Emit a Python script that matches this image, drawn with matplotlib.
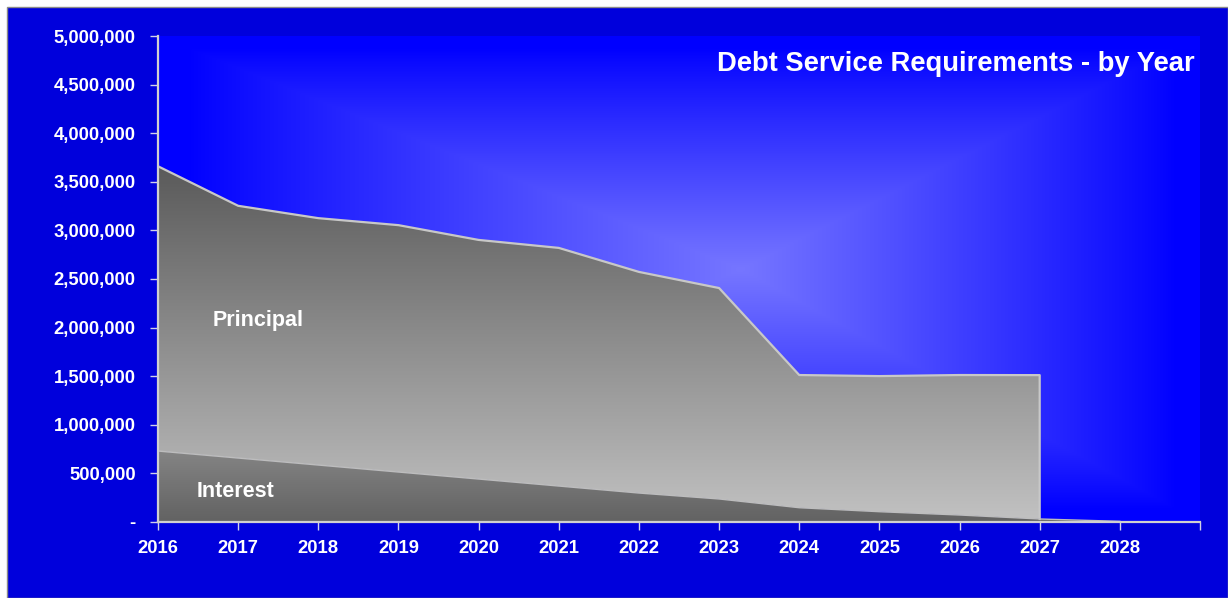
import numpy as np
import matplotlib
matplotlib.use("Agg")
import matplotlib.pyplot as plt
from matplotlib.patches import Rectangle
from matplotlib.colors import LinearSegmentedColormap

plt.rcParams['font.family'] = ['Liberation Sans', 'DejaVu Sans']
plt.rcParams['font.weight'] = 'bold'

years = ['2016', '2017', '2018', '2019', '2020', '2021', '2022',
         '2023', '2024', '2025', '2026', '2027', '2028']
interest = [730000, 658000, 586000, 514000, 442000, 370000, 298000,
            237000, 147000, 106000, 72000, 31000, 7000]
# principal stops after 2027
principal = [2930000, 2595000, 2540000, 2540000, 2460000, 2450000,
             2275000, 2170000, 1365000, 1395000, 1440000, 1480000]

y_ticks = list(range(0, 5000001, 500000))

fig = plt.figure(figsize=(12.28, 5.98), dpi=100)
fig.patch.set_facecolor('white')
fig.patches.append(Rectangle((7 / 1228, 0), 1 - 7 / 1228, 1 - 7 / 598,
                             transform=fig.transFigure, facecolor='#0000DC',
                             edgecolor='#8a8a8a', linewidth=1, zorder=-10))

ax = fig.add_axes([158 / 1228, 76 / 598, 1042 / 1228, 486 / 598])
ax.patch.set_alpha(0)

# background: rectangular "from center" gradient
n = 400
gx, gy = np.meshgrid(np.linspace(0, 1, n), np.linspace(1, 0, n))
cx, cy = 0.56, 0.52
dx = np.where(gx < cx, (cx - gx) / cx, (gx - cx) / (1 - cx))
dy = np.where(gy < cy, (cy - gy) / cy, (gy - cy) / (1 - cy))
t = np.maximum(dx, dy)
k = np.clip(1 - t / 0.95, 0, 1) ** 0.9
light = np.array([118, 118, 255]) / 255
blue = np.array([0, 0, 255]) / 255
bg = blue[None, None, :] + (light - blue)[None, None, :] * k[:, :, None]
ax.imshow(bg, extent=[0, 1, 0, 1], transform=ax.transAxes, aspect='auto',
          interpolation='bilinear', zorder=0)

x = np.arange(len(years))
xp = x[:len(principal)]
inter = np.array(interest, dtype=float)
total = inter[:len(principal)] + np.array(principal, dtype=float)

grad = np.linspace(0, 1, 256).reshape(-1, 1)

# principal area
cm_p = LinearSegmentedColormap.from_list('p', ['#c2c2c2', '#5a5a5a'])
poly_p = ax.fill_between(xp, inter[:len(principal)], total, facecolor='none',
                         edgecolor='none', zorder=2)
im_p = ax.imshow(grad, cmap=cm_p, origin='lower', aspect='auto',
                 extent=[0, xp[-1], 0, total.max()], zorder=2)
im_p.set_clip_path(poly_p.get_paths()[0], transform=ax.transData)

# interest area
cm_i = LinearSegmentedColormap.from_list('i', ['#626262', '#848484'])
poly_i = ax.fill_between(x, 0, inter, facecolor='none', edgecolor='none',
                         zorder=3)
im_i = ax.imshow(grad, cmap=cm_i, origin='lower', aspect='auto',
                 extent=[0, x[-1], 0, inter.max()], zorder=3)
im_i.set_clip_path(poly_i.get_paths()[0], transform=ax.transData)

# outlines
ax.plot(list(xp) + [xp[-1]], list(total) + [inter[len(principal) - 1]],
        color='#c8c8c8', lw=1.6, zorder=4, solid_joinstyle='round')
ax.plot(x, inter, color='#bdbdbd', lw=1.0, zorder=4)

ax.set_xlim(0, len(years))
ax.set_ylim(0, 5000000)

ax.set_xticks(np.arange(len(years) + 1))
ax.set_xticklabels(years + [''])
ax.set_yticks(y_ticks)
ax.set_yticklabels(['-' if v == 0 else f'{v:,}' for v in y_ticks])

ax.tick_params(axis='y', colors='#d0d0e8', length=6, width=1, pad=10,
               labelsize=13.3, labelcolor='white')
ax.tick_params(axis='x', colors='#d0d0e8', length=6, width=1, pad=7,
               labelsize=13.3, labelcolor='white')
for lab in ax.get_xticklabels() + ax.get_yticklabels():
    lab.set_fontweight('bold')

for s in ['top', 'right']:
    ax.spines[s].set_visible(False)
for s in ['left', 'bottom']:
    ax.spines[s].set_color('#d0d0d0')
    ax.spines[s].set_linewidth(1.6)
    ax.spines[s].set_zorder(5)

ax.text(0.995, 0.943, 'Debt Service Requirements - by Year', transform=ax.transAxes,
        ha='right', va='center', color='white', fontsize=19.7, fontweight='bold',
        zorder=6)
ax.text(0.687, 2070000, 'Principal', ha='left', va='center', color='white',
        fontsize=15.5, fontweight='bold', zorder=6)
ax.text(0.487, 310000, 'Interest', ha='left', va='center', color='white',
        fontsize=15.5, fontweight='bold', zorder=6)

plt.savefig('out.png', dpi=100, facecolor=fig.get_facecolor())
